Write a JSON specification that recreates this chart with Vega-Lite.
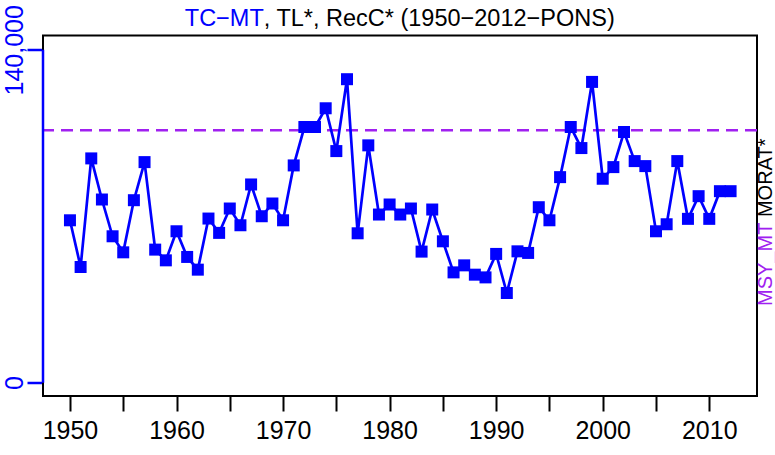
{
  "$schema": "https://vega.github.io/schema/vega-lite/v6.json",
  "width": 714,
  "height": 360.5,
  "autosize": {"type": "none"},
  "padding": {"left": 43, "top": 35.5, "right": 18, "bottom": 59},
  "background": "white",
  "config": {"view": {"stroke": null}, "font": "Liberation Sans", "axis": {"grid": false}},
  "datasets": {
    "catch": [
      {"year": 1950, "catch": 68300}, {"year": 1951, "catch": 48660}, {"year": 1952, "catch": 94330},
      {"year": 1953, "catch": 77040}, {"year": 1954, "catch": 61570}, {"year": 1955, "catch": 54820},
      {"year": 1956, "catch": 76750}, {"year": 1957, "catch": 92770}, {"year": 1958, "catch": 55960},
      {"year": 1959, "catch": 51450}, {"year": 1960, "catch": 63680}, {"year": 1961, "catch": 52880},
      {"year": 1962, "catch": 47530}, {"year": 1963, "catch": 69030}, {"year": 1964, "catch": 63000},
      {"year": 1965, "catch": 73250}, {"year": 1966, "catch": 66210}, {"year": 1967, "catch": 83370},
      {"year": 1968, "catch": 70000}, {"year": 1969, "catch": 75360}, {"year": 1970, "catch": 68300},
      {"year": 1971, "catch": 91380}, {"year": 1972, "catch": 107530}, {"year": 1973, "catch": 107530},
      {"year": 1974, "catch": 115420}, {"year": 1975, "catch": 97410}, {"year": 1976, "catch": 127650},
      {"year": 1977, "catch": 62830}, {"year": 1978, "catch": 99820}, {"year": 1979, "catch": 70720},
      {"year": 1980, "catch": 74940}, {"year": 1981, "catch": 70720}, {"year": 1982, "catch": 73250},
      {"year": 1983, "catch": 55120}, {"year": 1984, "catch": 72830}, {"year": 1985, "catch": 59460},
      {"year": 1986, "catch": 46390}, {"year": 1987, "catch": 49340}, {"year": 1988, "catch": 45420},
      {"year": 1989, "catch": 44280}, {"year": 1990, "catch": 54150}, {"year": 1991, "catch": 37700},
      {"year": 1992, "catch": 55240}, {"year": 1993, "catch": 54570}, {"year": 1994, "catch": 73800},
      {"year": 1995, "catch": 68300}, {"year": 1996, "catch": 86450}, {"year": 1997, "catch": 107530},
      {"year": 1998, "catch": 98680}, {"year": 1999, "catch": 126510}, {"year": 2000, "catch": 85770},
      {"year": 2001, "catch": 90670}, {"year": 2002, "catch": 105430}, {"year": 2003, "catch": 93200},
      {"year": 2004, "catch": 91090}, {"year": 2005, "catch": 63680}, {"year": 2006, "catch": 66630},
      {"year": 2007, "catch": 93200}, {"year": 2008, "catch": 68900}, {"year": 2009, "catch": 78440},
      {"year": 2010, "catch": 68900}, {"year": 2011, "catch": 80540}, {"year": 2012, "catch": 80540}
    ],
    "msy": [{"msy": 106140}],
    "one": [{}]
  },
  "layer": [
    {
      "data": {"name": "one"},
      "mark": {"type": "rect", "fillOpacity": 0, "stroke": "black", "strokeWidth": 2},
      "encoding": {
        "x": {
          "datum": 1947.47, "type": "quantitative",
          "scale": {"domain": [1947.47, 2014.48], "nice": false, "zero": false},
          "axis": {
            "values": [1950, 1955, 1960, 1965, 1970, 1975, 1980, 1985, 1990, 1995, 2000, 2005, 2010],
            "labelExpr": "datum.value % 10 === 0 ? format(datum.value, 'd') : ''",
            "domain": false, "tickColor": "black", "tickWidth": 2, "tickSize": 15,
            "labelFontSize": 25, "labelColor": "black", "labelPadding": 7,
            "labelFlush": false, "labelOverlap": false, "title": null
          }
        },
        "x2": {"datum": 2014.48},
        "y": {
          "datum": -5617, "type": "quantitative",
          "scale": {"domain": [-5617, 146032], "nice": false, "zero": false},
          "axis": {
            "values": [0, 140000],
            "labelExpr": "format(datum.value, ',')",
            "domain": false, "tickColor": "#0000FF", "tickWidth": 2.5, "tickSize": 16,
            "labelColor": "#0000FF", "labelFontSize": 25, "labelAngle": 270,
            "labelAlign": "center", "labelBaseline": "alphabetic", "labelPadding": 4.5,
            "labelFlush": false, "labelOverlap": false, "labelBound": false, "title": null
          }
        },
        "y2": {"datum": 146032}
      }
    },
    {
      "data": {"name": "msy"},
      "mark": {"type": "rule", "color": "#A020F0", "strokeWidth": 2.5, "strokeDash": [12, 7]},
      "encoding": {
        "y": {"field": "msy", "type": "quantitative", "scale": {"domain": [-5617, 146032], "nice": false, "zero": false}}
      }
    },
    {
      "data": {"name": "one"},
      "mark": {"type": "rule", "color": "#0000FF", "strokeWidth": 2.5},
      "encoding": {
        "x": {"datum": 1947.47, "type": "quantitative", "scale": {"domain": [1947.47, 2014.48], "nice": false, "zero": false}},
        "y": {"datum": 0, "type": "quantitative", "scale": {"domain": [-5617, 146032], "nice": false, "zero": false}},
        "y2": {"datum": 140000}
      }
    },
    {
      "data": {"name": "catch"},
      "mark": {"type": "line", "color": "#0000FF", "strokeWidth": 2.7},
      "encoding": {
        "x": {"field": "year", "type": "quantitative", "scale": {"domain": [1947.47, 2014.48], "nice": false, "zero": false}},
        "y": {"field": "catch", "type": "quantitative", "scale": {"domain": [-5617, 146032], "nice": false, "zero": false}}
      }
    },
    {
      "data": {"name": "catch"},
      "mark": {"type": "point", "shape": "square", "filled": true, "size": 144, "color": "#0000FF", "opacity": 1},
      "encoding": {
        "x": {"field": "year", "type": "quantitative", "scale": {"domain": [1947.47, 2014.48], "nice": false, "zero": false}},
        "y": {"field": "catch", "type": "quantitative", "scale": {"domain": [-5617, 146032], "nice": false, "zero": false}}
      }
    },
    {
      "data": {"name": "one"},
      "mark": {"type": "text", "text": "TC−MT", "color": "#0000FF", "fontSize": 23.5, "align": "right", "baseline": "alphabetic"},
      "encoding": {
        "x": {"datum": 1968.19, "type": "quantitative", "scale": {"domain": [1947.47, 2014.48], "nice": false, "zero": false}},
        "y": {"datum": 150040, "type": "quantitative", "scale": {"domain": [-5617, 146032], "nice": false, "zero": false}}
      }
    },
    {
      "data": {"name": "one"},
      "mark": {"type": "text", "text": ", TL*, RecC* (1950−2012−PONS)", "color": "black", "fontSize": 23.5, "align": "left", "baseline": "alphabetic"},
      "encoding": {
        "x": {"datum": 1968.19, "type": "quantitative", "scale": {"domain": [1947.47, 2014.48], "nice": false, "zero": false}},
        "y": {"datum": 150040, "type": "quantitative", "scale": {"domain": [-5617, 146032], "nice": false, "zero": false}}
      }
    },
    {
      "data": {"name": "one"},
      "mark": {"type": "text", "text": "MSY_MT", "color": "#A020F0", "fontSize": 20, "align": "left", "baseline": "alphabetic", "angle": 270},
      "encoding": {
        "x": {"datum": 2015.89, "type": "quantitative", "scale": {"domain": [1947.47, 2014.48], "nice": false, "zero": false}},
        "y": {"datum": 32250, "type": "quantitative", "scale": {"domain": [-5617, 146032], "nice": false, "zero": false}}
      }
    },
    {
      "data": {"name": "one"},
      "mark": {"type": "text", "text": "MORAT*", "color": "black", "fontSize": 20, "align": "left", "baseline": "alphabetic", "angle": 270},
      "encoding": {
        "x": {"datum": 2015.89, "type": "quantitative", "scale": {"domain": [1947.47, 2014.48], "nice": false, "zero": false}},
        "y": {"datum": 69650, "type": "quantitative", "scale": {"domain": [-5617, 146032], "nice": false, "zero": false}}
      }
    }
  ]
}
